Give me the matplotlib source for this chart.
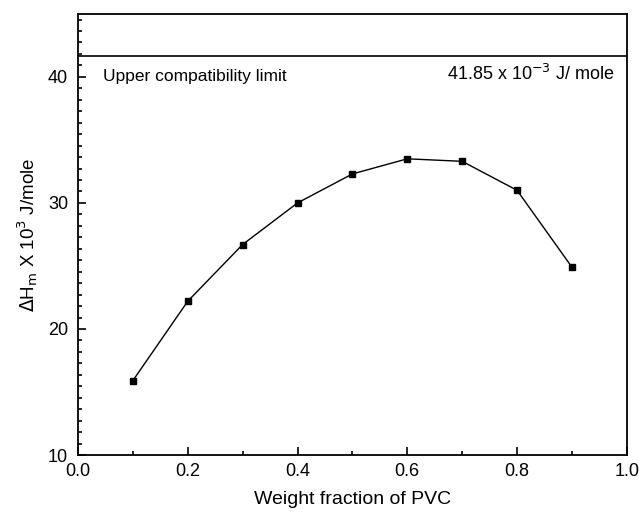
import matplotlib
matplotlib.use('Agg')
import matplotlib.pyplot as plt
from matplotlib.ticker import MultipleLocator, AutoMinorLocator

# weight fraction of PVC and heat of mixing (x 10^3 J/mole)
wfrac = [0.1, 0.2, 0.3, 0.4, 0.5, 0.6, 0.7, 0.8, 0.9]
dHm = [15.9, 22.2, 26.7, 30.0, 32.3, 33.5, 33.3, 31.0, 24.9]
limit = 41.65

plt.rcParams['font.family'] = ['Liberation Sans', 'DejaVu Sans']

fig = plt.figure(figsize=(6.39, 5.13), dpi=100)
ax = fig.add_axes([0.122, 0.113, 0.859, 0.86])

ax.plot(wfrac, dHm, color='black', lw=1, marker='s', ms=4.5)
ax.axhline(limit, color='black', lw=1.2)

ax.text(0.045, 40, 'Upper compatibility limit', fontsize=12.5, va='center')
ax.text(0.978, 40.2, r'41.85 x 10$^{-3}$ J/ mole', fontsize=13, va='center', ha='right')

ax.set_xlim(0, 1.0)
ax.set_ylim(10, 45)
ax.xaxis.set_major_locator(MultipleLocator(0.2))
ax.xaxis.set_minor_locator(MultipleLocator(0.1))
ax.yaxis.set_major_locator(MultipleLocator(10))
ax.yaxis.set_minor_locator(AutoMinorLocator(11))
ax.set_yticks([10, 20, 30, 40])
ax.tick_params(which='both', direction='in', labelsize=13, width=1.2)
ax.tick_params(which='major', length=6)
ax.tick_params(which='minor', length=3)
ax.tick_params(axis='x', pad=6)
ax.tick_params(axis='y', pad=7)
for s in ax.spines.values():
    s.set_linewidth(1.3)

ax.set_xlabel('Weight fraction of PVC', fontsize=14, labelpad=8)
ax.set_ylabel(r'$\Delta$H$_\mathrm{m}$ X 10$^3$ J/mole', fontsize=13.5, labelpad=6)

fig.savefig('out.png', dpi=100)
